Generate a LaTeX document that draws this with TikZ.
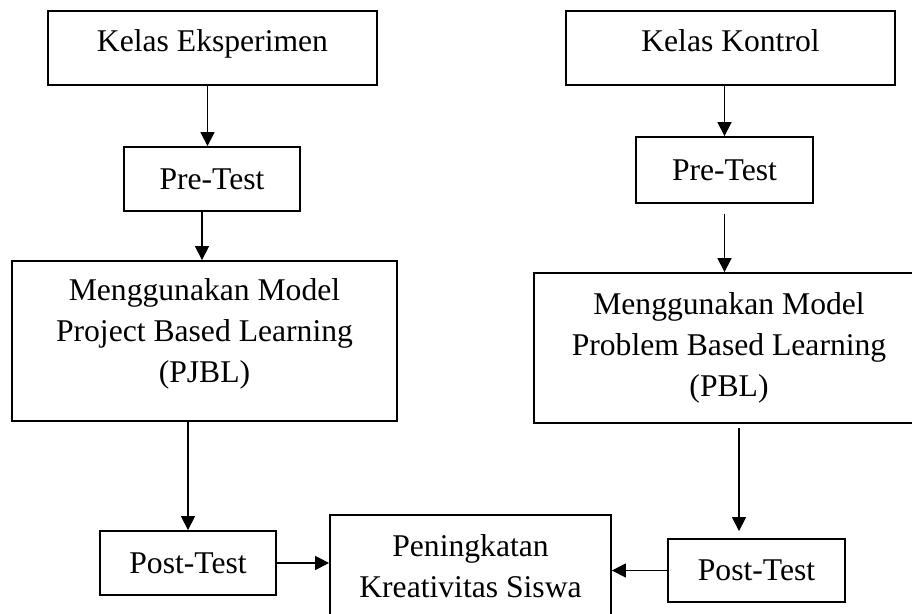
\documentclass[tikz,border=0pt]{standalone}
\usepackage{fontspec}
\setmainfont{Liberation Serif}
\usepackage{tikz}
\usetikzlibrary{arrows.meta,positioning}
\tikzstyle{box} = [rectangle, draw=black, line width=1pt, align=center, inner sep=0pt, font=\fontsize{18}{23.3}\selectfont]
\tikzstyle{arrow} = [line width=0.7pt, -{Triangle[length=0.28cm,width=0.28cm]}]

\begin{document}
\begin{tikzpicture}
\useasboundingbox (0,0) rectangle (18.24,12.28);

% Kelas eksperimen
\node[box, minimum width=6.58cm, minimum height=1.48cm, text depth=0.28cm] (keks) at (4.25,11.32) {Kelas Eksperimen};
\node[box, minimum width=3.52cm, minimum height=1.28cm] (preL) at (4.24,8.70) {Pre-Test};
\node[box, minimum width=7.70cm, minimum height=3.20cm, text depth=0.42cm] (modL) at (4.09,5.46) {Menggunakan Model\\Project Based Learning\\(PJBL)};
\node[box, minimum width=3.52cm, minimum height=1.28cm] (postL) at (3.76,1.02) {Post-Test};

% Kelas kontrol
\node[box, minimum width=6.58cm, minimum height=1.48cm, text depth=0.28cm] (kkon) at (14.61,11.32) {Kelas Kontrol};
\node[box, minimum width=3.54cm, minimum height=1.32cm] (preR) at (14.49,8.88) {Pre-Test};
\node[box, minimum width=7.80cm, minimum height=3.00cm] (modR) at (14.58,5.32) {Menggunakan Model\\Problem Based Learning\\(PBL)};
\node[box, minimum width=3.54cm, minimum height=1.26cm] (postR) at (15.13,0.87) {Post-Test};

% Hasil
\node[box, minimum width=5.62cm, minimum height=2.04cm] (hasil) at (9.41,0.96) {Peningkatan\\Kreativitas Siswa};

% Connections
\draw[arrow] ([xshift=-0.1cm]keks.south) -- ([xshift=-0.1cm]keks.south |- preL.north);
\draw[arrow] ([xshift=-0.2cm]preL.south) -- ([xshift=-0.2cm]preL.south |- modL.north);
\draw[arrow] (modL.south -| postL.north) -- (postL.north);
\draw[arrow] (postL.east) -- (postL.east -| hasil.west);
\draw[arrow] (kkon.south -| preR.north) -- (preR.north);
\draw[arrow, shorten <=0.2cm] (preR.south) -- (preR.south |- modR.north);
\draw[arrow, shorten <=0.08cm, shorten >=0.14cm] ([xshift=0.2cm]modR.south) -- ([xshift=0.2cm]modR.south |- postR.north);
\draw[arrow] (postR.west) -- (postR.west -| hasil.east);
\end{tikzpicture}
\end{document}
